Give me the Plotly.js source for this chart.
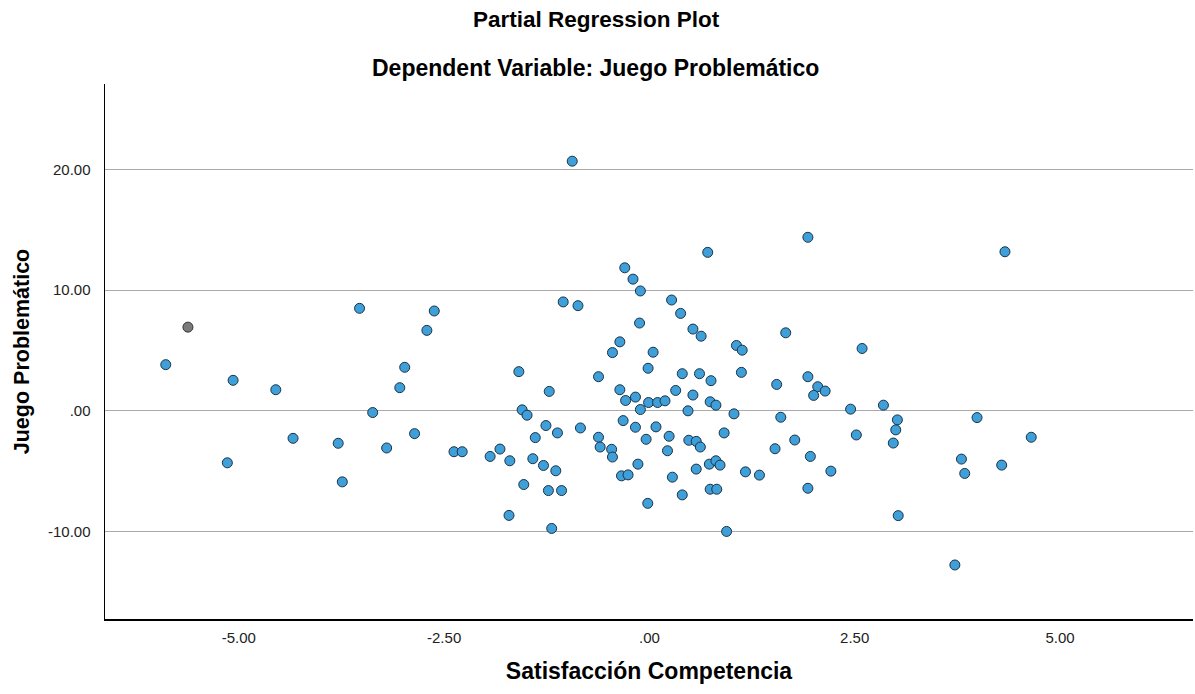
<!DOCTYPE html>
<html>
<head>
<meta charset="utf-8">
<script src="https://cdn.plot.ly/plotly-3.0.1.min.js"></script>
<style>
html,body{margin:0;padding:0;background:#fff;}
#chart{width:1195px;height:694px;}
</style>
</head>
<body>
<div id="chart"></div>
<script>
// Partial regression residuals: Satisfacción Competencia (x) vs Juego Problemático (y)
const satisfaccion = [
  -5.89, -5.07, -4.55, -3.53, -2.62, -2.71, -2.98, -3.04, -3.37, -2.86,
  -4.34, -3.79, -3.20, -2.38, -2.28, -5.14, -3.74,
  -0.94, 0.71, -0.30, -0.20, -0.11, -1.05, -0.87, 0.27, 0.38, -0.12, 0.53, 0.63,
  -0.36, -0.45, 0.045, -1.59, -0.016, 0.40, 0.61, 0.75, -0.62, -1.22,
  -0.36, -0.17, -0.29, -0.01, 0.10, 0.19, 0.32, 0.53, 0.74, 0.81,
  -0.11, 0.47, 1.03, -1.55, -1.49, -1.26, -1.12, -0.84, -1.39, -0.32,
  -0.17, 0.08, -0.04, 0.24, -0.62, -0.60, -0.46, -0.45, 0.22, 0.48,
  0.57, 0.62, 0.91, -1.94, -1.82, -1.70, -1.42, -1.29, -1.14, -1.53,
  -1.23, -1.07, -1.71, -1.19, -0.14, -0.34, -0.26, -0.02, 0.28, 0.40,
  0.57, 0.73, 0.81, 0.86, 0.74, 0.82, 0.94,
  1.93, 1.66, 1.06, 1.13, 2.59, 1.12, 1.93, 1.55, 2.05, 2.14,
  2.00, 2.85, 2.45, 1.60, 3.02, 3.00, 2.52, 2.97, 1.77, 1.53,
  1.96, 1.17, 1.34, 2.21, 1.93, 3.80, 3.84, 3.03, 3.72, 4.33,
  3.99, 4.65, 4.29
];
const juego = [
  3.83, 2.53, 1.75, 8.50, 8.28, 6.67, 3.61, 1.92, -0.14, -1.89,
  -2.28, -2.69, -3.08, -3.39, -3.39, -4.31, -5.89,
  20.7, 13.14, 11.86, 10.92, 9.94, 9.03, 8.72, 9.19, 8.08, 7.28, 6.78, 6.19,
  5.72, 4.83, 4.86, 3.25, 3.53, 3.08, 3.08, 2.50, 2.83, 1.61,
  1.75, 1.14, 0.86, 0.69, 0.69, 0.83, 1.69, 1.31, 0.75, 0.47,
  0.11, 0.00, -0.25, 0.08, -0.36, -1.22, -1.83, -1.42, -2.22, -0.81,
  -1.36, -1.33, -2.36, -2.11, -2.19, -3.00, -3.19, -3.83, -3.31, -2.44,
  -2.53, -3.00, -1.83, -3.78, -3.17, -4.14, -3.97, -4.53, -4.97, -6.11,
  -6.61, -6.61, -8.67, -9.75, -4.42, -5.39, -5.31, -7.67, -5.50, -6.97,
  -4.83, -4.42, -4.14, -4.50, -6.50, -6.50, -10.0,
  14.39, 6.47, 5.42, 5.03, 5.17, 3.19, 2.83, 2.19, 2.00, 1.64,
  1.28, 0.47, 0.14, -0.53, -0.75, -1.58, -2.00, -2.67, -2.42, -3.14,
  -3.78, -5.06, -5.33, -5.00, -6.42, -4.00, -5.19, -8.69, -12.78, 13.19,
  -0.56, -2.19, -4.50
];
// one point drawn in gray in the original
const grayX = [-5.62];
const grayY = [6.94];

const xTicks = [-5, -2.5, 0, 2.5, 5];
const xTickText = ["-5.00", "-2.50", ".00", "2.50", "5.00"];
const yTicks = [-10, 0, 10, 20];
const yTickText = ["-10.00", ".00", "10.00", "20.00"];

const chartTitle = "Partial Regression Plot";
const chartSubtitle = "Dependent Variable: Juego Problemático";
const xTitle = "Satisfacción Competencia";
const yTitle = "Juego Problemático";

const font = "Liberation Sans, Arial, sans-serif";

const traces = [
  {
    x: satisfaccion, y: juego, type: "scatter", mode: "markers",
    marker: {size: 10, color: "#3fa0d9", line: {color: "#1c3246", width: 1}},
    hoverinfo: "x+y", showlegend: false
  },
  {
    x: grayX, y: grayY, type: "scatter", mode: "markers",
    marker: {size: 10, color: "#7a7a7a", line: {color: "#333333", width: 1}},
    hoverinfo: "x+y", showlegend: false
  }
];

const L = 105, R = 2, T = 84, B = 75, W = 1195, H = 694;
const plotW = W - L - R, plotH = H - T - B;
const px2paperX = p => (p - L) / plotW;
const px2paperY = p => (H - B - p) / plotH;

const layout = {
  width: W, height: H,
  paper_bgcolor: "#ffffff", plot_bgcolor: "#ffffff",
  margin: {l: L, r: R, t: T, b: B},
  font: {family: font, color: "#000"},
  annotations: [
    {text: "<b>" + chartTitle + "</b>", xref: "paper", yref: "paper",
     x: px2paperX(596), y: px2paperY(19), xanchor: "center", yanchor: "middle",
     showarrow: false, font: {family: font, size: 22.5, color: "#000"}},
    {text: "<b>" + chartSubtitle + "</b>", xref: "paper", yref: "paper",
     x: px2paperX(595), y: px2paperY(68), xanchor: "center", yanchor: "middle",
     showarrow: false, font: {family: font, size: 23, color: "#000"}}
  ],
  xaxis: {
    range: [-6.63, 6.62],
    tickvals: xTicks, ticktext: xTickText,
    tickfont: {family: font, size: 15, color: "#222"},
    showgrid: false, zeroline: false,
    showline: true, linecolor: "#000", linewidth: 1.5,
    ticks: "outside", ticklen: 4, tickcolor: "rgba(0,0,0,0)",
    title: {text: "<b>" + xTitle + "</b>", font: {family: font, size: 23, color: "#000"}, standoff: 18}
  },
  yaxis: {
    range: [-17.26, 27.1],
    tickvals: yTicks, ticktext: yTickText,
    tickfont: {family: font, size: 15, color: "#222"},
    showgrid: true, gridcolor: "#aaaaaa", gridwidth: 1,
    zeroline: false,
    showline: true, linecolor: "#000", linewidth: 1.5,
    ticks: "outside", ticklen: 10, tickcolor: "rgba(0,0,0,0)",
    title: {text: "<b>" + yTitle + "</b>", font: {family: font, size: 21.5, color: "#000"}, standoff: 12}
  }
};

Plotly.newPlot("chart", traces, layout, {displayModeBar: false, staticPlot: true});
</script>
</body>
</html>
